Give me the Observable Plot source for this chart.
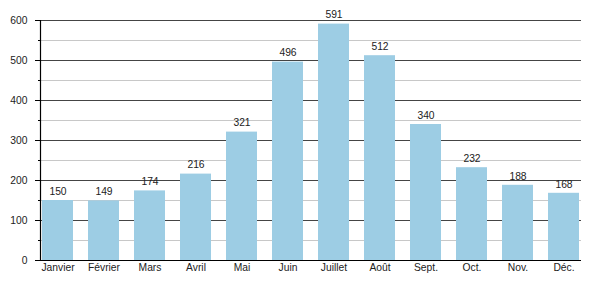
<!DOCTYPE html>
<html>
<head>
<meta charset="utf-8">
<script src="https://cdn.jsdelivr.net/npm/d3@7"></script>
<script src="https://cdn.jsdelivr.net/npm/@observablehq/plot@0.6"></script>
<style>
  html, body { margin: 0; padding: 0; background: #fff; }
  #chart svg { display: block; }
</style>
</head>
<body>
<div id="chart"></div>
<script>
const months = ["Janvier", "Février", "Mars", "Avril", "Mai", "Juin", "Juillet", "Août", "Sept.", "Oct.", "Nov.", "Déc."];
const values = [150, 149, 174, 216, 321, 496, 591, 512, 340, 232, 188, 168];
const majorTicks = [0, 100, 200, 300, 400, 500, 600];
const minorTicks = [50, 150, 250, 350, 450, 550];

const data = months.map((m, i) => ({month: m, value: values[i]}));

const leftLine = (index, scales, values, dims) => {
  const g = d3.create("svg:g");
  g.append("line")
    .attr("x1", dims.marginLeft + 0.5).attr("x2", dims.marginLeft + 0.5)
    .attr("y1", dims.marginTop).attr("y2", dims.height - dims.marginBottom)
    .attr("stroke", "#000").attr("stroke-width", 1.2);
  return g.node();
};

const chart = Plot.plot({
  width: 600,
  height: 300,
  marginLeft: 40,
  marginRight: 19,
  marginTop: 20,
  marginBottom: 40,
  style: {fontFamily: "'Liberation Sans', Arial, sans-serif", fontSize: "10.3px", color: "#222", background: "#fff"},
  x: {domain: months, paddingInner: 0.33, paddingOuter: 0, label: null},
  y: {domain: [0, 600], label: null},
  marks: [
    Plot.ruleY(minorTicks, {stroke: "#c8c8c8", strokeWidth: 1}),
    Plot.ruleY(majorTicks.filter(d => d > 0), {stroke: "#444", strokeWidth: 1}),
    Plot.barY(data, {x: "month", y: "value", fill: "#9dcde4"}),
    Plot.axisX({tickSize: 0, tickPadding: 3, fill: "#222"}),
    Plot.axisY({ticks: majorTicks, tickSize: 5, tickPadding: 8, stroke: "#000", fill: "#222"}),
    Plot.axisY({ticks: minorTicks, tickSize: 2, text: null, stroke: "#000"}),
    Plot.ruleY([0], {stroke: "#000", strokeWidth: 1.2}),
    leftLine,
    Plot.text(data, {x: "month", y: "value", text: d => String(d.value), dy: -9, fill: "#222"})
  ]
});
document.getElementById("chart").append(chart);
</script>
</body>
</html>
